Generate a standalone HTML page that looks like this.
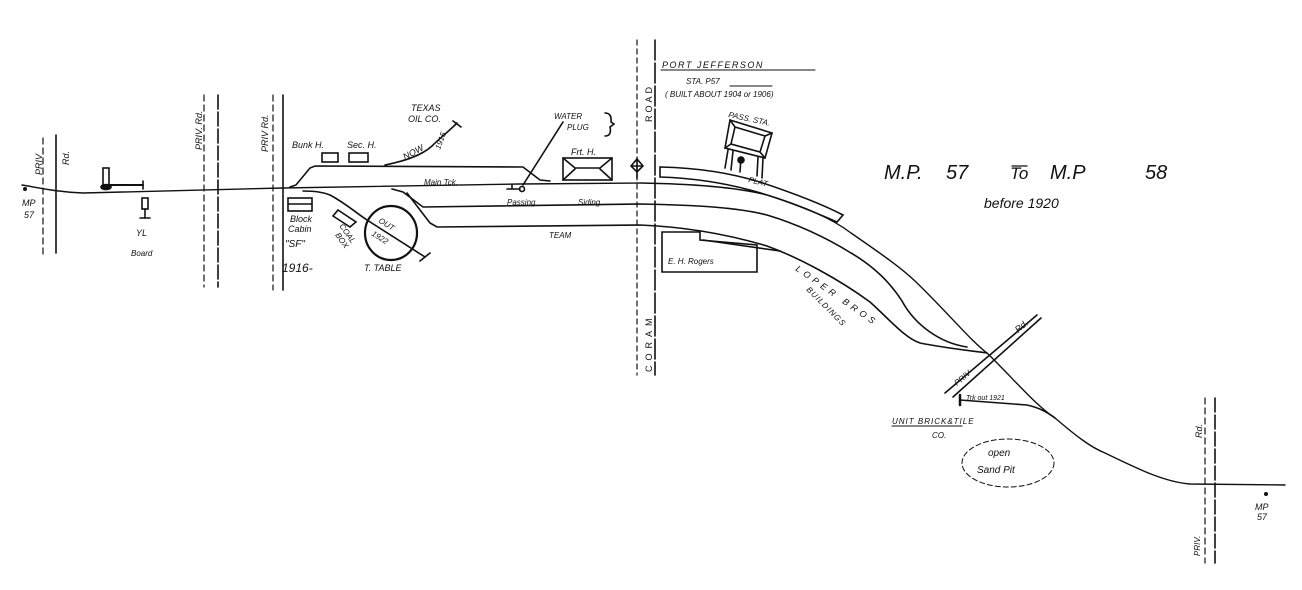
<!DOCTYPE html>
<html><head><meta charset="utf-8"><style>
html,body{margin:0;padding:0;background:#fff;}
svg{display:block;}
text{font-family:"Liberation Sans",sans-serif;font-style:italic;fill:#111;}
</style></head><body>
<svg width="1302" height="590" viewBox="0 0 1302 590" xmlns="http://www.w3.org/2000/svg">
<g fill="none" stroke="#111" stroke-width="1.6" stroke-linecap="round">
<!-- roads -->
<line x1="43" y1="138" x2="43" y2="257" stroke-dasharray="6,4" stroke-width="1.2"/>
<line x1="56" y1="135" x2="56" y2="253"/>
<line x1="204" y1="95" x2="204" y2="287" stroke-dasharray="6,4" stroke-width="1.2"/>
<line x1="218" y1="95" x2="218" y2="287" stroke-dasharray="14,3"/>
<line x1="273" y1="95" x2="273" y2="290" stroke-dasharray="6,4" stroke-width="1.2"/>
<line x1="283" y1="95" x2="283" y2="290"/>
<line x1="637" y1="40" x2="637" y2="375" stroke-dasharray="5,4" stroke-width="1.2"/>
<line x1="655" y1="40" x2="655" y2="375" stroke-dasharray="20,3"/>
<line x1="1205" y1="398" x2="1205" y2="563" stroke-dasharray="6,4" stroke-width="1.2"/>
<line x1="1215" y1="398" x2="1215" y2="563" stroke-dasharray="14,3"/>
<line x1="945" y1="393" x2="1037" y2="315"/>
<line x1="953" y1="397" x2="1041" y2="318"/>
<!-- main track -->
<path d="M22,185 C40,188 57,192 83,193 L283,188 L520,184 L640,183 C700,184 740,188 767,195 C800,205 830,217 851,233 C880,253 900,267 915,281 C950,315 970,340 987,353 C1010,375 1035,405 1055,418 C1075,435 1090,447 1105,453 C1140,470 1165,482 1190,484 L1285,485" stroke-width="1.4"/>
<!-- passing loop upper -->
<path d="M290,187 L296,185 L310,168 L315,166 L523,167 L540,180 L550,181"/>
<!-- lead to turntable -->
<path d="M303,191 C315,191 322,192 330,195 C345,203 355,212 367,220 L425,257"/>
<line x1="420" y1="261" x2="430" y2="253"/>
<!-- passing siding -->
<path d="M392,189 L403,192 L423,207 L640,204 C700,205 740,208 767,215 C800,225 830,240 851,253 C880,270 895,290 902,301 C915,325 940,343 967,347"/>
<!-- team -->
<path d="M407,193 L430,223 L437,227 L640,225 C690,227 730,235 767,246 C800,258 840,280 870,302 C890,320 905,338 920,343 C945,348 965,350 987,353"/>
<!-- Texas oil spur -->
<path d="M385,165 C400,162 420,157 432,146 C440,138 447,133 457,123"/>
<line x1="453" y1="121" x2="461" y2="127"/>
<!-- trk out 1921 -->
<path d="M960,400 L1027,405 C1040,408 1047,412 1055,418"/>
<line x1="960" y1="395" x2="960" y2="405" stroke-width="2.5"/>
<!-- signals -->
<rect x="103" y="168" width="6" height="17"/>
<ellipse cx="106" cy="187" rx="5" ry="2.5" fill="#111"/>
<line x1="106" y1="185" x2="143" y2="185" stroke-width="2"/>
<line x1="143" y1="181" x2="143" y2="189"/>
<rect x="142" y="198" width="6" height="11"/>
<line x1="145" y1="209" x2="145" y2="218"/>
<line x1="140" y1="218" x2="150" y2="218"/>
<!-- buildings -->
<rect x="322" y="153" width="16" height="9"/>
<rect x="349" y="153" width="19" height="9"/>
<rect x="288" y="198" width="24" height="13"/>
<line x1="288" y1="204" x2="312" y2="204"/>
<polygon points="338,210 356,222 350,227 333,216"/>
<ellipse cx="391" cy="233" rx="26" ry="27" stroke-width="2.2"/>
<rect x="563" y="158" width="49" height="22"/>
<path d="M563,158 L575,168 L600,168 L612,158 M563,180 L575,169 M600,169 L612,180"/>
<path d="M631,166 L637,159 L643,166 L637,172 Z M637,158 L637,178 M631,166 L643,166"/>
<!-- water plug -->
<line x1="563" y1="122" x2="523" y2="185"/>
<line x1="507" y1="189" x2="520" y2="189"/>
<circle cx="522" cy="189" r="2.5"/>
<line x1="512" y1="185" x2="512" y2="189"/>
<path d="M605,113 Q612,113 611,122 L614,124 L610,127 Q612,136 605,136"/>
<!-- platform -->
<path d="M660,167 C700,168 730,173 760,182 C790,192 820,203 843,215 L837,222 C810,210 780,198 750,190 C720,182 690,178 660,177 Z"/>
<!-- station -->
<polygon points="730,120 772,133 765,158 725,148"/>
<polygon points="735,127 765,136 760,152 731,144"/>
<path d="M730,120 L735,127 M772,133 L765,136 M765,158 L760,152 M725,148 L731,144"/>
<path d="M728,150 L725,168 M733,151 L731,170 M758,157 L757,176 M763,158 L762,178"/>
<circle cx="741" cy="160" r="3" fill="#111"/>
<line x1="741" y1="157" x2="740" y2="172"/>
<!-- E.H. Rogers -->
<path d="M662,232 L700,232 L700,240 L757,245 L757,272 L662,272 Z"/>
<line x1="703" y1="240" x2="780" y2="251"/>
<!-- sand pit -->
<ellipse cx="1008" cy="463" rx="46" ry="24" stroke-dasharray="5,3" stroke-width="1"/>
<!-- underlines -->
<line x1="661" y1="70" x2="815" y2="70" stroke-width="1"/>
<line x1="730" y1="86" x2="772" y2="86" stroke-width="1"/>
<line x1="892" y1="426" x2="962" y2="426" stroke-width="1"/>
<line x1="1012" y1="166" x2="1027" y2="166" stroke-width="1.3"/>
</g>
<circle cx="25" cy="189" r="2" fill="#111"/>
<circle cx="1266" cy="494" r="2" fill="#111"/>
<g font-size="9">
<text x="22" y="206">MP</text><text x="24" y="218">57</text>
<text transform="translate(42,175) rotate(-90)">PRIV</text>
<text transform="translate(69,165) rotate(-90)">Rd.</text>
<text transform="translate(202,150) rotate(-90)">PRIV. Rd.</text>
<text transform="translate(268,152) rotate(-90)">PRIV Rd.</text>
<text x="136" y="236">YL</text>
<text x="131" y="256" font-size="8">Board</text>
<text x="292" y="148">Bunk H.</text>
<text x="347" y="148">Sec. H.</text>
<text x="411" y="111">TEXAS</text>
<text x="408" y="122">OIL CO.</text>
<text transform="translate(405,160) rotate(-28)">NOW</text>
<text transform="translate(440,150) rotate(-70)" font-size="8">1915</text>
<text x="424" y="185" font-size="8">Main Tck.</text>
<text x="554" y="119" font-size="8">WATER</text>
<text x="567" y="130" font-size="8">PLUG</text>
<text x="571" y="155">Frt. H.</text>
<text x="507" y="205" font-size="8">Passing</text>
<text x="578" y="205" font-size="8">Siding</text>
<text x="549" y="238" font-size="8">TEAM</text>
<text x="290" y="222">Block</text>
<text x="288" y="232">Cabin</text>
<text x="285" y="247" font-size="10">"SF"</text>
<text x="282" y="272" font-size="12">1916-</text>
<text transform="translate(339,226) rotate(55)" font-size="8">COAL</text>
<text transform="translate(335,235) rotate(55)" font-size="8">BOX</text>
<text transform="translate(378,222) rotate(32)" font-size="8">OUT</text>
<text transform="translate(371,235) rotate(32)" font-size="8">1922</text>
<text x="364" y="271">T. TABLE</text>
<text transform="translate(652,122) rotate(-90)" font-size="9" style="font-style:normal" letter-spacing="3">ROAD</text>
<text transform="translate(652,372) rotate(-90)" font-size="9" style="font-style:normal" letter-spacing="5">CORAM</text>
<text x="662" y="68" letter-spacing="1.5">PORT JEFFERSON</text>
<text x="686" y="84" font-size="8">STA. P57</text>
<text x="665" y="97" font-size="8">( BUILT ABOUT 1904 or 1906)</text>
<text x="728" y="117" font-size="8" transform="rotate(12,728,117)">PASS. STA.</text>
<text x="748" y="182" font-size="8" transform="rotate(14,748,182)">PLAT</text>
<text x="668" y="264" font-size="8">E. H. Rogers</text>
<text transform="translate(795,270) rotate(35)" font-size="9" letter-spacing="4">LOPER BROS</text>
<text transform="translate(806,290) rotate(45)" font-size="8" letter-spacing="1">BUILDINGS</text>
<text transform="translate(957,386) rotate(-40)" font-size="8">PRIV</text>
<text transform="translate(1018,333) rotate(-40)" font-size="9">Rd.</text>
<text x="966" y="400" font-size="7">Trk out 1921</text>
<text x="892" y="424" font-size="8" letter-spacing="1">UNIT BRICK&amp;TILE</text>
<text x="932" y="438" font-size="8">CO.</text>
<text x="988" y="456" font-size="10">open</text>
<text x="977" y="473" font-size="10">Sand Pit</text>
<text transform="translate(1202,438) rotate(-90)" font-size="9">Rd.</text>
<text transform="translate(1200,556) rotate(-90)" font-size="8">PRIV.</text>
<text x="1255" y="510" font-size="9">MP</text>
<text x="1257" y="520" font-size="9">57</text>
<text x="884" y="179" font-size="20">M.P.</text>
<text x="946" y="179" font-size="20">57</text>
<text x="1010" y="179" font-size="17">To</text>
<text x="1050" y="179" font-size="20">M.P</text>
<text x="1145" y="179" font-size="20">58</text>
<text x="984" y="208" font-size="14">before 1920</text>
</g>
</svg>
</body></html>
